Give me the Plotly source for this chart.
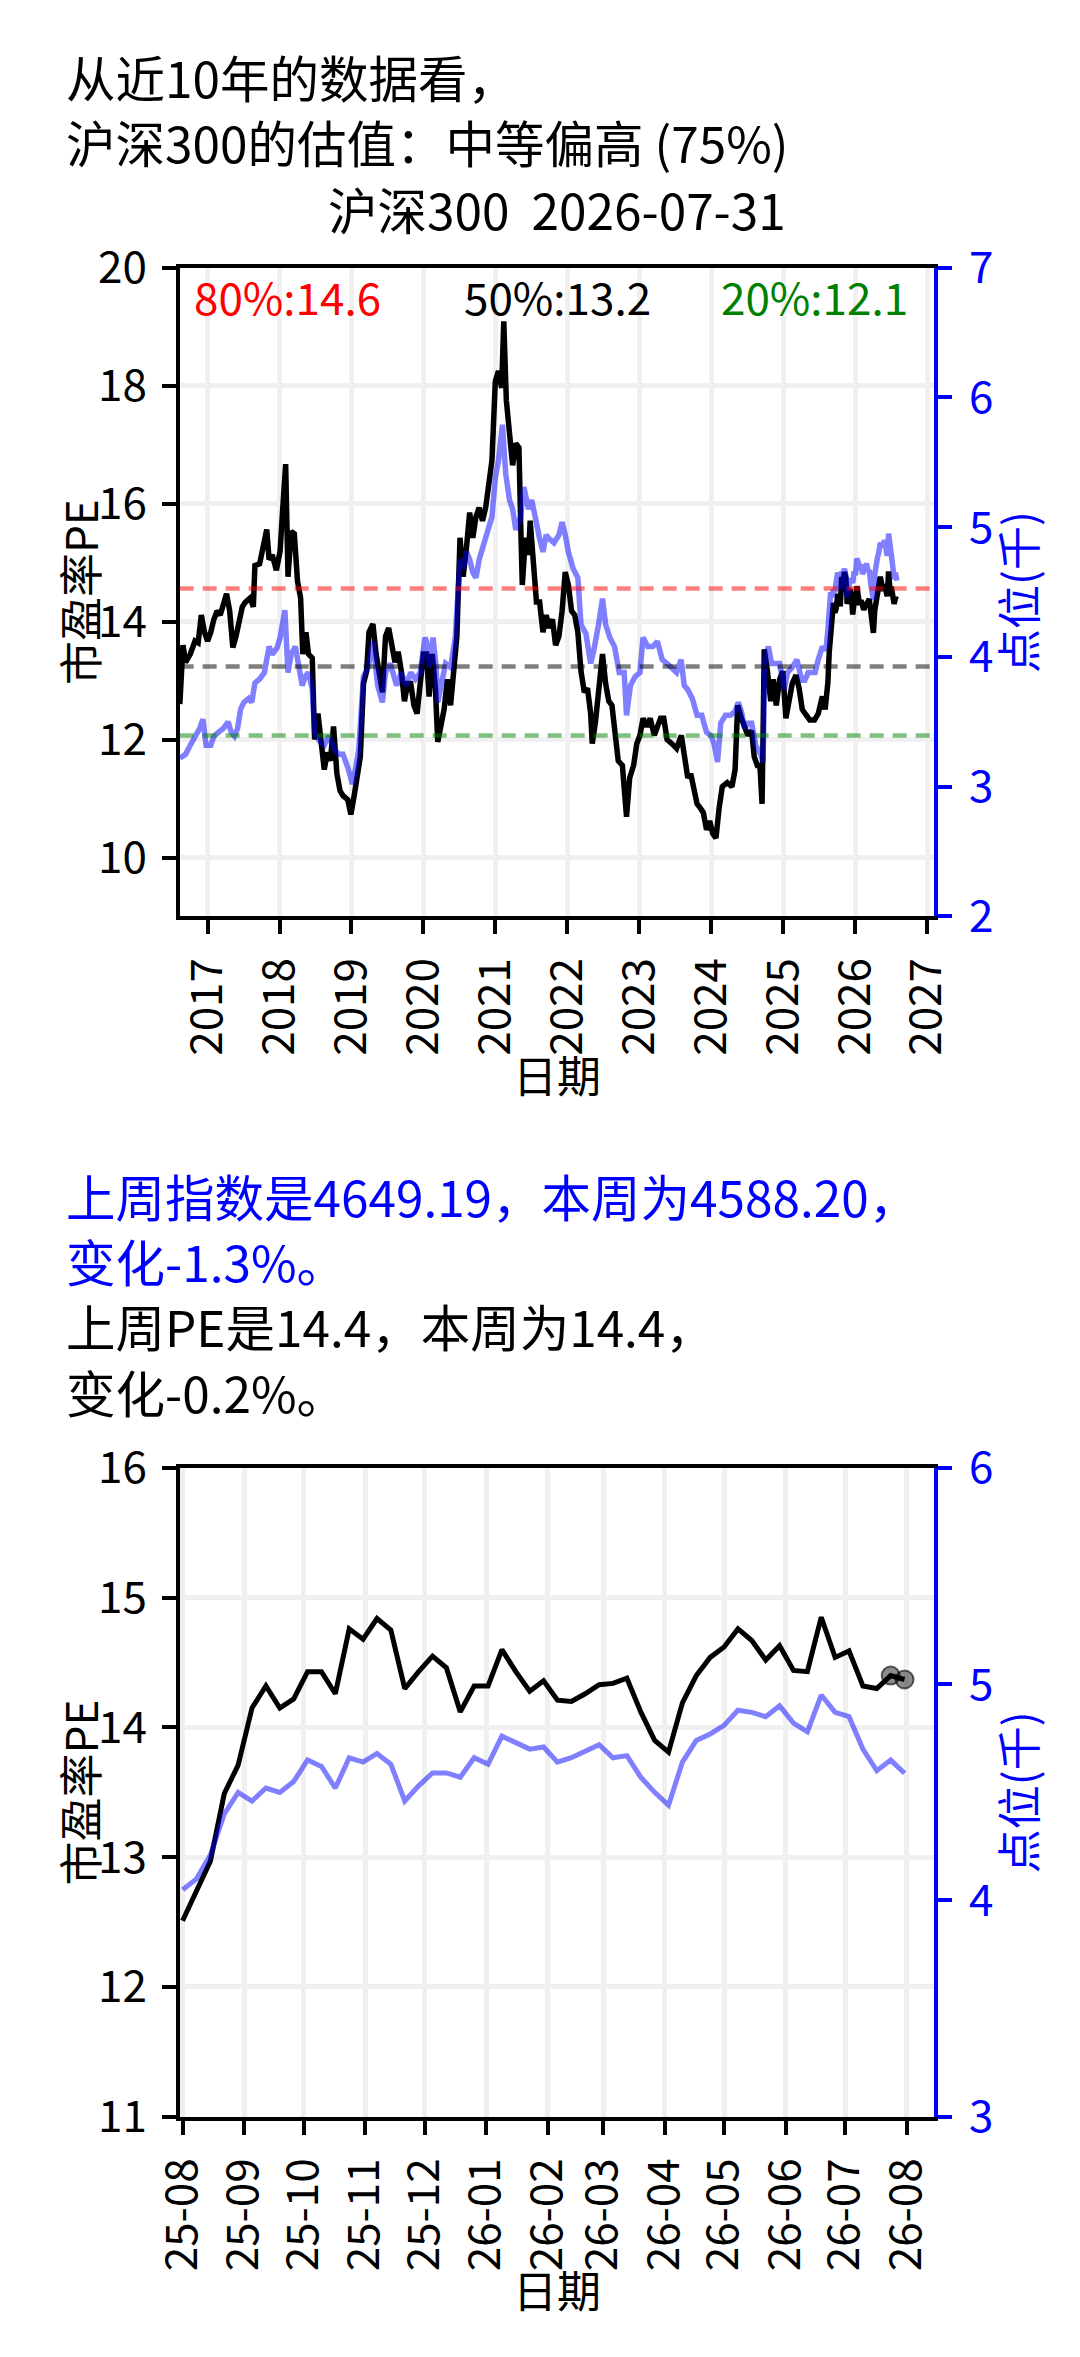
import pandas as pd
import plotly.graph_objects as go

W, H = 1080, 2357            # browser window
OFF = 8                      # default page body margin
FW, FH = W - 2 * OFF, H - 2 * OFF   # figure fits the window without overflow
FONT = "Noto Sans CJK SC"
BLUE = "#0000ff"

# ---------------- data ----------------
# long history (decimal year) – PE
pe_hist_t = [2016.615, 2016.658, 2016.693, 2016.759, 2016.825, 2016.869, 2016.912, 2016.956, 2017.000, 2017.044,
             2017.088, 2017.131, 2017.175, 2017.219, 2017.263, 2017.307, 2017.350, 2017.394, 2017.438, 2017.482,
             2017.526, 2017.591, 2017.635, 2017.657, 2017.723, 2017.767, 2017.823, 2017.854, 2017.898, 2017.955,
             2018.007, 2018.042, 2018.086, 2018.117, 2018.161, 2018.205, 2018.248, 2018.292, 2018.323, 2018.367,
             2018.402, 2018.454, 2018.489, 2018.533, 2018.577, 2018.621, 2018.664, 2018.708, 2018.752, 2018.796,
             2018.840, 2018.883, 2018.949, 2018.993, 2019.037, 2019.081, 2019.124, 2019.168, 2019.212, 2019.243,
             2019.300, 2019.343, 2019.387, 2019.431, 2019.475, 2019.519, 2019.562, 2019.606, 2019.650, 2019.694,
             2019.738, 2019.781, 2019.825, 2019.869, 2019.913, 2019.957, 2020.000, 2020.044, 2020.080, 2020.124,
             2020.168, 2020.199, 2020.243, 2020.288, 2020.332, 2020.376, 2020.420, 2020.465, 2020.509, 2020.553,
             2020.597, 2020.642, 2020.686, 2020.730, 2020.774, 2020.819, 2020.863, 2020.907, 2020.951, 2020.996,
             2021.040, 2021.084, 2021.115, 2021.150, 2021.195, 2021.239, 2021.283, 2021.327, 2021.350, 2021.372,
             2021.416, 2021.460, 2021.482, 2021.527, 2021.571, 2021.615, 2021.659, 2021.704, 2021.748, 2021.792,
             2021.836, 2021.881, 2021.925, 2021.969, 2022.013, 2022.058, 2022.102, 2022.146, 2022.190, 2022.235,
             2022.279, 2022.323, 2022.345, 2022.389, 2022.434, 2022.487, 2022.531, 2022.575, 2022.619, 2022.664,
             2022.708, 2022.765, 2022.823, 2022.867, 2022.920, 2022.965, 2023.009, 2023.053, 2023.106, 2023.150,
             2023.208, 2023.252, 2023.296, 2023.341, 2023.385, 2023.451, 2023.518, 2023.584, 2023.628, 2023.673,
             2023.714, 2023.758, 2023.802, 2023.846, 2023.890, 2023.934, 2023.978, 2024.022, 2024.066, 2024.110,
             2024.154, 2024.220, 2024.286, 2024.330, 2024.366, 2024.419, 2024.463, 2024.507, 2024.559, 2024.595,
             2024.639, 2024.674, 2024.705, 2024.736, 2024.780, 2024.824, 2024.859, 2024.903, 2024.947, 2024.991,
             2025.035, 2025.079, 2025.123, 2025.176, 2025.220, 2025.264, 2025.308, 2025.366, 2025.432, 2025.485,
             2025.542]
pe_hist_v = [12.60, 13.60, 13.31, 13.45, 13.67, 13.64, 14.11, 13.82, 13.67, 13.82,
             14.04, 14.18, 14.11, 14.33, 14.47, 14.18, 13.56, 13.75, 13.96, 14.25,
             14.33, 14.40, 14.25, 14.95, 14.98, 15.20, 15.56, 15.05, 15.13, 14.87,
             15.20, 15.85, 16.67, 14.76, 15.53, 15.49, 14.69, 14.40, 13.45, 13.82,
             13.45, 13.38, 12.00, 12.44, 11.93, 11.49, 11.78, 11.64, 12.22, 11.42,
             11.13, 11.05, 10.98, 10.73, 11.05, 11.35, 11.71, 12.95, 13.16, 13.82,
             13.96, 13.45, 13.16, 12.80, 13.75, 13.89, 13.60, 13.31, 13.49, 13.16,
             12.65, 12.95, 12.95, 12.58, 12.44, 13.02, 13.45, 13.45, 12.73, 13.45,
             12.87, 11.96, 12.29, 12.51, 13.02, 12.58, 13.16, 13.75, 15.42, 14.76,
             15.27, 15.85, 15.42, 15.78, 15.93, 15.71, 15.93, 16.36, 16.73, 18.07,
             18.25, 17.96, 19.09, 17.75, 17.09, 16.65, 17.02, 16.95, 15.64, 14.62,
             15.42, 15.13, 15.71, 15.05, 14.33, 14.33, 13.82, 14.11, 13.89, 14.04,
             13.60, 13.75, 14.18, 14.84, 14.62, 14.18, 14.11, 13.82, 13.16, 12.80,
             12.87, 12.44, 11.93, 12.29, 12.73, 13.45, 12.95, 12.65, 12.58, 12.15,
             11.64, 11.56, 10.69, 11.35, 11.56, 11.93, 12.07, 12.36, 12.22, 12.36,
             12.07, 12.22, 12.36, 12.36, 12.00, 11.93, 11.85, 12.07, 11.64, 11.35,
             11.42, 11.20, 10.91, 10.84, 10.76, 10.47, 10.62, 10.40, 10.33, 10.84,
             11.20, 11.27, 11.20, 11.49, 12.58, 12.36, 12.22, 12.07, 12.15, 11.71,
             11.56, 11.56, 10.91, 13.53, 13.16, 12.65, 13.02, 12.58, 13.02, 13.16,
             12.36, 12.73, 12.95, 13.09, 12.87, 12.51, 12.44, 12.33, 12.33, 12.44,
             12.73]

# long history – index level (thousand points)
idx_hist_t = [2016.615, 2016.693, 2016.759, 2016.825, 2016.890, 2016.934, 2016.978, 2017.044, 2017.088, 2017.153,
              2017.219, 2017.285, 2017.329, 2017.372, 2017.416, 2017.460, 2017.504, 2017.569, 2017.613, 2017.657,
              2017.723, 2017.788, 2017.854, 2017.898, 2017.964, 2018.007, 2018.073, 2018.117, 2018.161, 2018.218,
              2018.270, 2018.314, 2018.358, 2018.402, 2018.454, 2018.489, 2018.555, 2018.621, 2018.686, 2018.752,
              2018.818, 2018.883, 2018.949, 2019.015, 2019.059, 2019.102, 2019.168, 2019.234, 2019.300, 2019.365,
              2019.431, 2019.475, 2019.540, 2019.628, 2019.694, 2019.760, 2019.825, 2019.891, 2019.957, 2020.022,
              2020.044, 2020.088, 2020.133, 2020.177, 2020.199, 2020.243, 2020.310, 2020.376, 2020.442, 2020.509,
              2020.553, 2020.597, 2020.642, 2020.686, 2020.730, 2020.774, 2020.819, 2020.885, 2020.951, 2020.996,
              2021.040, 2021.097, 2021.142, 2021.195, 2021.239, 2021.283, 2021.350, 2021.394, 2021.460, 2021.504,
              2021.549, 2021.615, 2021.659, 2021.704, 2021.748, 2021.814, 2021.881, 2021.925, 2021.969, 2022.013,
              2022.080, 2022.146, 2022.190, 2022.257, 2022.323, 2022.367, 2022.434, 2022.487, 2022.531, 2022.588,
              2022.655, 2022.721, 2022.788, 2022.823, 2022.876, 2022.942, 2023.009, 2023.053, 2023.119, 2023.186,
              2023.252, 2023.319, 2023.385, 2023.451, 2023.518, 2023.581, 2023.626, 2023.670, 2023.736, 2023.802,
              2023.868, 2023.934, 2024.000, 2024.044, 2024.088, 2024.132, 2024.198, 2024.264, 2024.330, 2024.374,
              2024.419, 2024.463, 2024.507, 2024.559, 2024.617, 2024.683, 2024.718, 2024.744, 2024.793, 2024.837,
              2024.881, 2024.947, 2025.013, 2025.057, 2025.123, 2025.189, 2025.256, 2025.300, 2025.344, 2025.388,
              2025.441, 2025.485, 2025.542]
idx_hist_v = [3.22, 3.25, 3.32, 3.39, 3.45, 3.52, 3.32, 3.32, 3.39, 3.42,
              3.45, 3.50, 3.42, 3.39, 3.45, 3.60, 3.65, 3.68, 3.65, 3.80,
              3.83, 3.88, 4.08, 4.02, 4.07, 4.15, 4.36, 3.88, 4.02, 4.08,
              3.88, 3.78, 3.85, 3.88, 3.75, 3.42, 3.35, 3.32, 3.39, 3.30,
              3.25, 3.25, 3.15, 3.02, 3.15, 3.29, 3.85, 3.92, 4.12, 3.78,
              3.65, 3.88, 3.95, 3.78, 3.88, 3.78, 3.88, 3.83, 3.88, 4.15,
              4.12, 3.92, 4.15, 3.92, 3.65, 3.78, 3.95, 3.92, 4.15, 4.75,
              4.68, 4.81, 4.75, 4.65, 4.61, 4.75, 4.84, 4.94, 5.08, 5.38,
              5.51, 5.79, 5.41, 5.21, 5.14, 4.98, 5.08, 5.31, 5.14, 5.21,
              5.08, 4.91, 4.81, 4.94, 4.91, 4.88, 4.94, 5.04, 4.94, 4.81,
              4.68, 4.61, 4.25, 4.18, 3.95, 4.05, 4.25, 4.45, 4.25, 4.15,
              4.08, 3.88, 3.88, 3.55, 3.78, 3.85, 3.88, 4.15, 4.08, 4.08,
              4.12, 3.98, 3.95, 3.92, 3.88, 3.98, 3.78, 3.75, 3.68, 3.55,
              3.55, 3.42, 3.39, 3.32, 3.19, 3.49, 3.55, 3.55, 3.58, 3.65,
              3.58, 3.45, 3.49, 3.49, 3.32, 3.25, 3.19, 3.98, 4.08, 3.95,
              3.95, 3.95, 3.75, 3.88, 3.92, 3.98, 3.82, 3.82, 3.88, 3.88,
              3.88, 3.98, 4.08]

# last year, weekly (Fridays from 2025-08-01)
week_start = "2025-08-01"
pe_week = [12.51, 12.74, 12.97, 13.49, 13.71, 14.15, 14.32, 14.15, 14.22, 14.43,
           14.43, 14.26, 14.76, 14.68, 14.84, 14.75, 14.30, 14.43, 14.55, 14.46,
           14.12, 14.32, 14.32, 14.60, 14.43, 14.28, 14.36, 14.21, 14.20, 14.26,
           14.33, 14.34, 14.38, 14.12, 13.90, 13.81, 14.19, 14.40, 14.54, 14.62,
           14.76, 14.67, 14.52, 14.63, 14.44, 14.43, 14.85, 14.54, 14.59, 14.32,
           14.30, 14.40, 14.37]
idx_week = [4.05, 4.10, 4.21, 4.40, 4.50, 4.46, 4.52, 4.50, 4.55, 4.65,
            4.62, 4.52, 4.66, 4.64, 4.68, 4.63, 4.46, 4.53, 4.59, 4.59,
            4.57, 4.66, 4.63, 4.76, 4.73, 4.70, 4.71, 4.64, 4.66, 4.69,
            4.72, 4.66, 4.67, 4.57, 4.50, 4.44, 4.64, 4.74, 4.77, 4.81,
            4.88, 4.87, 4.85, 4.90, 4.82, 4.78, 4.95, 4.87, 4.85, 4.70,
            4.60, 4.64919, 4.58820]

# percentile lines
pct_names = ["80%", "50%", "20%"]
pct_vals = [14.56, 13.24, 12.07]
pct_colors = ["rgba(255,0,0,0.5)", "rgba(0,0,0,0.5)", "rgba(0,128,0,0.5)"]
pct_text_colors = ["#ff0000", "#000000", "#008000"]

report_date = "2026-07-31"
index_name = "沪深300"
level = "中等偏高 (75%)"


def yr2date(y):
    y0 = int(y)
    start = pd.Timestamp(y0, 1, 1)
    ndays = (pd.Timestamp(y0 + 1, 1, 1) - start).days
    return start + pd.Timedelta(days=round((y - y0) * ndays))


def fx(px):
    # window pixel (from left) -> paper fraction
    return (px - OFF) / FW


def fy(px):
    # window pixel (from top) -> paper fraction
    return 1 - (px - OFF) / FH


week_dates = list(pd.date_range(week_start, periods=len(pe_week), freq="7D"))
pe_long_t = [yr2date(t) for t in pe_hist_t] + week_dates
pe_long_v = pe_hist_v + pe_week
idx_long_t = [yr2date(t) for t in idx_hist_t] + week_dates
idx_long_v = idx_hist_v + idx_week

fig = go.Figure()

############################ TOP: 10 years ################################
fig.add_trace(go.Scatter(x=pe_long_t, y=pe_long_v, mode="lines",
                         line=dict(color="black", width=5.5), xaxis="x", yaxis="y"))
fig.add_trace(go.Scatter(x=idx_long_t, y=idx_long_v, mode="lines",
                         line=dict(color="rgba(0,0,255,0.5)", width=5.5), xaxis="x", yaxis="y2"))

############################ BOTTOM: last year #############################
fig.add_trace(go.Scatter(x=week_dates, y=pe_week, mode="lines",
                         line=dict(color="black", width=5), xaxis="x2", yaxis="y3"))
fig.add_trace(go.Scatter(x=week_dates[-2:], y=pe_week[-2:], mode="markers",
                         marker=dict(color="rgba(0,0,0,0.45)", size=18,
                                     line=dict(color="rgba(0,0,0,0.6)", width=2)),
                         xaxis="x2", yaxis="y3"))
fig.add_trace(go.Scatter(x=week_dates, y=idx_week, mode="lines",
                         line=dict(color="rgba(0,0,255,0.5)", width=5), xaxis="x2", yaxis="y4"))

# percentile dashed lines + labels
shapes = []
annos = []
lab_x = [166, 551, 922]
lab_anchor = ["left", "center", "right"]
for name, v, c, tc, lx, xa in zip(pct_names, pct_vals, pct_colors, pct_text_colors, lab_x, lab_anchor):
    shapes.append(dict(type="line", xref="x domain", yref="y", x0=0, x1=1, y0=v, y1=v,
                       line=dict(color=c, width=4.5, dash="14px,9px")))
    annos.append(dict(text=f"{name}:{v:.1f}", x=fx(lx), y=fy(267), xref="paper", yref="paper",
                      xanchor=xa, yanchor="middle", showarrow=False,
                      font=dict(size=44, color=tc, family=FONT)))


def add_text(txt, x, yc, size=49.5, color="black", anchor="left"):
    annos.append(dict(text=txt, x=fx(x), y=fy(yc), xref="paper", yref="paper",
                      xanchor=anchor, yanchor="middle", showarrow=False,
                      font=dict(size=size, color=color, family=FONT)))


# titles
add_text("从近10年的数据看，", 31, 41)
add_text(f"{index_name}的估值：{level}", 31, 108)
add_text(f"{index_name}\u00a0 {report_date}", 551, 177, anchor="center")

# weekly change text
i_prev, i_now = idx_week[-2] * 1000, idx_week[-1] * 1000
p_prev, p_now = pe_week[-2], pe_week[-1]
add_text(f"上周指数是{i_prev:.2f}，本周为{i_now:.2f}，", 31, 1192, color=BLUE)
add_text(f"变化{(i_now / i_prev - 1) * 100:.1f}%。", 31, 1259, color=BLUE)
add_text(f"上周PE是{p_prev:.1f}，本周为{p_now:.1f}，", 31, 1326)
add_text(f"变化{(p_now / p_prev - 1) * 100:.1f}%。", 31, 1393)

# axis titles
for top, bot in [(238, 905), (1472, 2139)]:
    mid = (top + bot) / 2
    annos.append(dict(text="市盈率PE", x=fx(47), y=fy(mid), xref="paper", yref="paper",
                      xanchor="center", yanchor="middle", textangle=-90, showarrow=False,
                      font=dict(size=44, color="black", family=FONT)))
    annos.append(dict(text="点位(千)", x=fx(1035), y=fy(mid), xref="paper", yref="paper",
                      xanchor="center", yanchor="middle", textangle=-90, showarrow=False,
                      font=dict(size=44, color=BLUE, family=FONT)))
for yc in [1067, 2316]:
    add_text("日期", 551, yc, size=44, anchor="center")

XDOM = [fx(153), fx(948)]
TOP_DOM = [fy(905), fy(238)]
BOT_DOM = [fy(2139), fy(1472)]
tickfont = dict(size=44, color="black", family=FONT)
bluefont = dict(size=44, color=BLUE, family=FONT)
common_x = dict(showline=True, linecolor="black", linewidth=4, mirror=True,
                ticks="outside", ticklen=14, tickwidth=4, tickcolor="black",
                showgrid=True, gridcolor="#f0f0f0", gridwidth=5, zeroline=False,
                tickangle=-90, tickfont=tickfont, ticklabelstandoff=6)
common_yl = dict(showline=True, linecolor="black", linewidth=4, side="left",
                 ticks="outside", ticklen=14, tickwidth=4, tickcolor="black",
                 showgrid=True, gridcolor="#f0f0f0", gridwidth=5, zeroline=False,
                 tickfont=tickfont, ticklabelstandoff=6)
common_yr = dict(showline=True, linecolor=BLUE, linewidth=4, side="right",
                 ticks="outside", ticklen=14, tickwidth=4, tickcolor=BLUE,
                 showgrid=False, zeroline=False, tickfont=bluefont, ticklabelstandoff=8)

fig.update_layout(
    width=FW, height=FH, autosize=False,
    margin=dict(l=0, r=0, t=0, b=0),
    paper_bgcolor="white", plot_bgcolor="white",
    showlegend=False,
    font=dict(family=FONT, color="black"),
    shapes=shapes, annotations=annos,
    xaxis=dict(domain=XDOM, anchor="y", type="date",
               range=["2016-08-12", "2027-02-06"],
               tick0="2017-01-01", dtick="M12", tickformat="%Y", **common_x),
    yaxis=dict(domain=TOP_DOM, anchor="x", range=[9, 20], tickvals=[10, 12, 14, 16, 18, 20], **common_yl),
    yaxis2=dict(overlaying="y", anchor="x", range=[2, 7], tickvals=[2, 3, 4, 5, 6, 7], **common_yr),
    xaxis2=dict(domain=XDOM, anchor="y3", type="date",
                range=["2025-07-30 12:00", "2026-08-15"],
                tick0="2025-08-01", dtick="M1", tickformat="%y-%m", **common_x),
    yaxis3=dict(domain=BOT_DOM, anchor="x2", range=[11, 16], tickvals=[11, 12, 13, 14, 15, 16], **common_yl),
    yaxis4=dict(overlaying="y3", anchor="x2", range=[3, 6], tickvals=[3, 4, 5, 6], **common_yr),
)

fig.write_html("out.html")
